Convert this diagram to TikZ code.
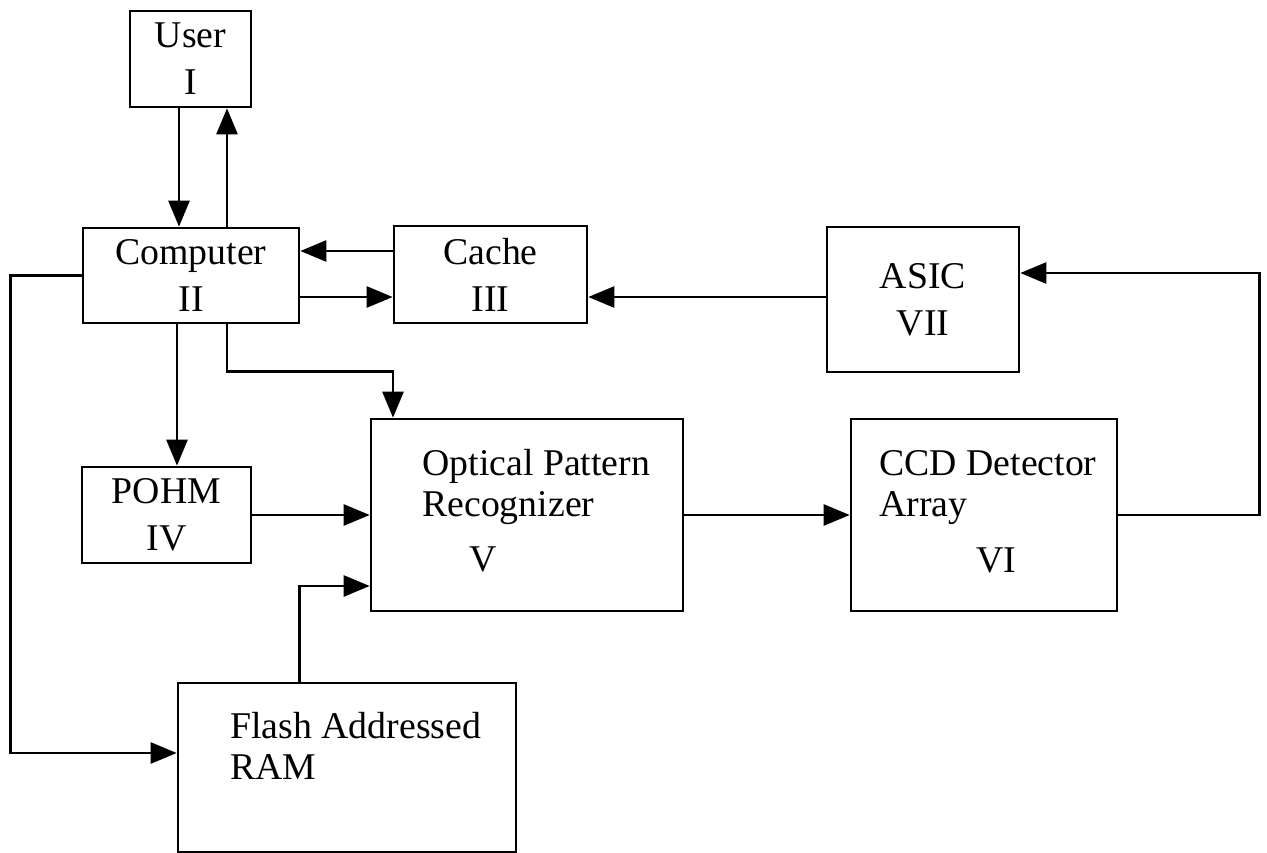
\documentclass[tikz,border=0pt]{standalone}
\usepackage{fontspec}
\setmainfont{Liberation Serif}
\usepackage{tikz}
\usetikzlibrary{arrows.meta,positioning,calc}

\begin{document}
\begin{tikzpicture}[
  font=\fontsize{21.5}{26.7}\selectfont,
  blk/.style={draw,line width=1.5pt,inner sep=0pt,align=center},
  lbl/.style={font=\fontsize{21.5}{22.8}\selectfont,inner sep=0pt,align=left},
  ar/.style={-{Triangle[length=0.52cm,width=0.42cm]},line width=1.5pt}
]
\useasboundingbox (0,0) rectangle (25.34,-17.06);

\node[blk,minimum width=2.42cm,minimum height=1.92cm] (user)  at (3.81,-1.18)  {User\\I};
\node[blk,minimum width=4.32cm,minimum height=1.90cm] (comp)  at (3.82,-5.51)  {Computer\\II};
\node[blk,minimum width=3.86cm,minimum height=1.94cm] (cache) at (9.81,-5.49)  {Cache\\III};
\node[blk,minimum width=3.84cm,minimum height=2.90cm] (asic)  at (18.46,-5.99) {ASIC\\VII};
\node[blk,minimum width=3.38cm,minimum height=1.92cm] (pohm)  at (3.33,-10.30) {POHM\\IV};
\node[blk,minimum width=6.24cm,minimum height=3.84cm] (opr)   at (10.54,-10.30) {};
\node[blk,minimum width=5.32cm,minimum height=3.84cm] (ccd)   at (19.68,-10.30) {};
\node[blk,minimum width=6.76cm,minimum height=3.38cm] (flash) at (6.94,-15.35) {};

\node[lbl,anchor=base west] (oprtxt)   at (8.44,-10.32)  {Optical Pattern\\Recognizer};
\node[lbl,anchor=base]      (oprnum)   at (9.66,-11.42)  {V};
\node[lbl,anchor=base west] (ccdtxt)   at (17.58,-10.32) {CCD Detector\\Array};
\node[lbl,anchor=base]      (ccdnum)   at (19.92,-11.44) {VI};
\node[lbl,anchor=base west] (flashtxt) at (4.60,-15.58)  {Flash Addressed\\RAM};

\draw[ar] ([xshift=-0.24cm]comp.north |- user.south) -- ([xshift=-0.24cm]comp.north);
\draw[ar] ([xshift=0.72cm]comp.north) -- ([xshift=0.72cm]comp.north |- user.south);
\draw[ar] ([yshift=0.47cm]cache.west) -- ([yshift=0.47cm]cache.west -| comp.east);
\draw[ar] ([yshift=-0.45cm]cache.west -| comp.east) -- ([yshift=-0.45cm]cache.west);
\draw[ar] ([yshift=-0.45cm]cache.east -| asic.west) -- ([yshift=-0.45cm]cache.east);
\draw[ar] ([xshift=0.72cm]comp.south) -- ++(0,-0.94) -| ([xshift=-2.68cm]opr.north);
\draw[ar] ([xshift=-0.28cm]comp.south) -- ([xshift=-0.28cm]comp.south |- pohm.north);
\draw[ar] (comp.west) -- ++(-1.42,0) |- ([yshift=0.29cm]flash.west);
\draw[ar] (pohm.east) -- (pohm.east -| opr.west);
\draw[ar] ([xshift=-0.95cm]flash.north) |- ([yshift=-1.42cm]opr.west);
\draw[ar] (opr.east) -- (opr.east -| ccd.west);
\draw[ar] (ccd.east) -- ++(2.82,0) |- ([yshift=0.53cm]asic.east);
\end{tikzpicture}
\end{document}
